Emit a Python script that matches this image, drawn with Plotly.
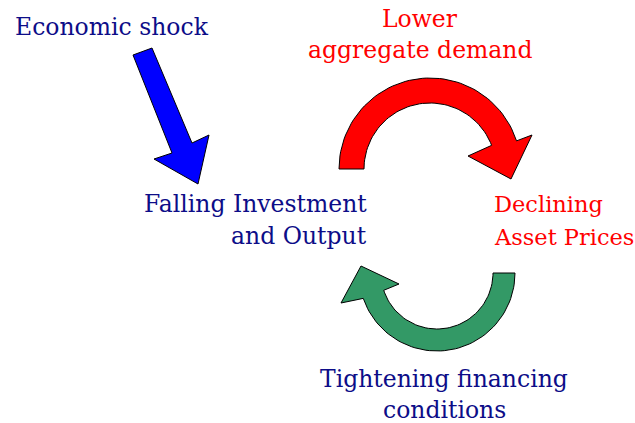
import numpy as np
import plotly.graph_objects as go

W, H = 635, 423
NAVY = "#0D0D88"
RED = "#FF0000"

# Text labels (one entry per label, lines separate)
labels = [["Economic shock"], ["Lower", "aggregate demand"], ["Falling Investment", "and Output"],
          ["Declining", "Asset Prices"], ["Tightening financing", "conditions"]]
label_colors = [NAVY, RED, NAVY, RED, NAVY]
label_x = [13, 420, 369, 492, 444]
label_baselines = [[35], [27, 58], [212, 244], [212, 245], [387, 418]]
label_anchor = ["left", "center", "right", "left", "center"]
label_sizes = [23.5, 23.5, 23.5, 22.5, 23.5]

FONT = "DejaVu Serif, serif"

fig = go.Figure()

def arc(cx, cy, r, a0, a1, n=60, ydir=-1):
    t = np.radians(np.linspace(a0, a1, n))
    return cx + r * np.cos(t), cy + ydir * r * np.sin(t)

# Blue straight arrow
bx = [133, 152, 192, 209, 198, 154, 172, 133]
by = [55, 48, 143, 135, 184, 159, 153, 55]
fig.add_trace(go.Scatter(x=bx, y=by, fill="toself", fillcolor="#0000FF", mode="lines",
                         line=dict(color="black", width=1), hoverinfo="skip"))

# Red curved arrow (clockwise over the top)
ox, oy = arc(430, 169, 91, 180, 18)
ix, iy = arc(430, 169, 66, 21, 180)
rx = list(ox) + [532, 511, 468] + list(ix) + [ox[0]]
ry = list(oy) + [135, 179, 156] + list(iy) + [oy[0]]
fig.add_trace(go.Scatter(x=rx, y=ry, fill="toself", fillcolor=RED, mode="lines",
                         line=dict(color="black", width=1), hoverinfo="skip"))

# Green curved arrow (clockwise underneath)
ox, oy = arc(437, 273, 78, 0, 161, ydir=1)
ix, iy = arc(437, 273, 56, 162, 0, ydir=1)
gx = list(ox) + [341, 361, 399] + list(ix) + [ox[0]]
gy = list(oy) + [303, 266, 284] + list(iy) + [oy[0]]
fig.add_trace(go.Scatter(x=gx, y=gy, fill="toself", fillcolor="#339966", mode="lines",
                         line=dict(color="black", width=1), hoverinfo="skip"))

for lines, c, x, bls, a, fs in zip(labels, label_colors, label_x, label_baselines,
                                   label_anchor, label_sizes):
    for t, b in zip(lines, bls):
        fig.add_annotation(x=x, y=b - 0.35 * fs, text=t, showarrow=False, xanchor=a,
                           yanchor="middle", font=dict(family=FONT, size=fs, color=c))

fig.update_layout(width=W, height=H, margin=dict(l=0, r=0, t=0, b=0),
                  paper_bgcolor="white", plot_bgcolor="white", showlegend=False,
                  hovermode=False,
                  xaxis=dict(range=[0, W], visible=False, fixedrange=True),
                  yaxis=dict(range=[H, 0], visible=False, fixedrange=True))

fig.write_html("out.html", config={"displayModeBar": False, "staticPlot": True},
               post_script="document.body.style.margin='0';document.body.style.overflow='hidden';")
